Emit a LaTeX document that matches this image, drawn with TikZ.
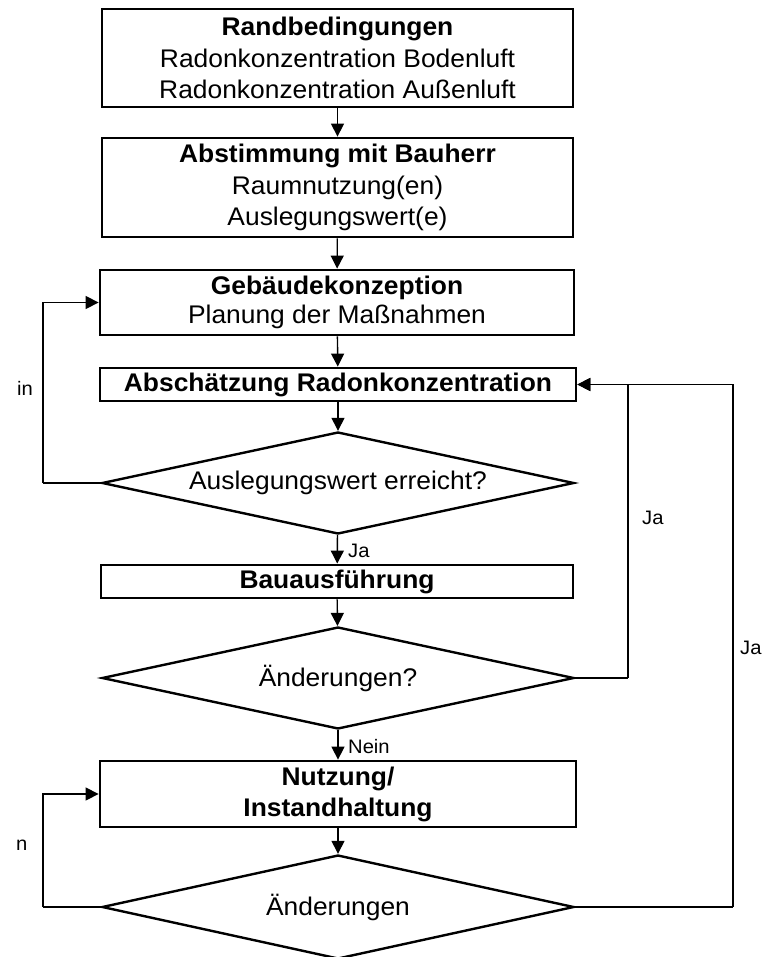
\documentclass[tikz,border=0pt]{standalone}
\usepackage{fontspec}
\setmainfont{Liberation Sans}[FakeStretch=1.035]
\usetikzlibrary{arrows.meta,shapes.geometric}
\tikzset{
  box/.style={draw, line width=2.8pt, rectangle, inner sep=0pt, align=center,
    font=\fontsize{25.5}{31.5}\selectfont},
  dia/.style={draw, line width=2.4pt, diamond, aspect=4.6, inner sep=0pt,
    minimum width=472pt, minimum height=102pt,
    font=\fontsize{25.5}{28}\selectfont},
  conn/.style={line width=1.4pt, -{Triangle[length=13pt,width=13pt]}},
  line/.style={line width=1.4pt},
  lab/.style={inner sep=0pt, font=\fontsize{19.5}{21}\selectfont},
}
\begin{document}
\begin{tikzpicture}[x=1pt,y=-1pt]
\useasboundingbox (0,0) rectangle (763,957);
\fill[white] (0,0) rectangle (763,957);
\clip (0,0) rectangle (763,957);

\node[box, minimum width=471pt, minimum height=98pt] (b1) at (337.5,58)
  {\textbf{Randbedingungen}\\Radonkonzentration Bodenluft\\Radonkonzentration Außenluft};
\node[box, minimum width=471pt, minimum height=99pt] (b2) at (337.5,187.5)
  {\textbf{Abstimmung mit Bauherr}\\Raumnutzung(en)\\Auslegungswert(e)};
\node[box, minimum width=474pt, minimum height=65pt, font=\fontsize{25.5}{29}\selectfont] (b3) at (337,302.5)
  {\textbf{Gebäudekonzeption}\\Planung der Maßnahmen};
\node[box, minimum width=476pt, minimum height=33pt] (b4) at (338,384.5)
  {\textbf{Abschätzung Radonkonzentration}};
\node[dia] (d1) at (338,483) {Auslegungswert erreicht?};
\node[box, minimum width=472pt, minimum height=33pt] (b5) at (337,581.5)
  {\textbf{Bauausführung}};
\node[dia] (d2) at (338,678) {Änderungen?};
\node[box, minimum width=476pt, minimum height=66pt, font=\fontsize{25.5}{31}\selectfont] (b6) at (338,794)
  {\textbf{Nutzung/}\\\textbf{Instandhaltung}};
\node[dia, minimum height=104pt] (d3) at (338,907) {Änderungen};

\draw[conn] (b1) -- (b2);
\draw[conn] (b2) -- (b3);
\draw[conn] (b3) -- (b4);
\draw[conn] (b4) -- (d1);
\draw[conn] (d1) -- (b5);
\draw[conn] (b5) -- (d2);
\draw[conn] (d2) -- (b6);
\draw[conn] (b6) -- (d3);

\coordinate (l1) at (43,483);
\coordinate (l3) at (43,907);
\coordinate (r2) at (628,678);
\coordinate (r3) at (733,907);

\draw[line] (d1.west) -- (l1);
\draw[conn] (l1) |- (b3.west);
\draw[line] (d3.west) -- (l3);
\draw[conn] (l3) |- (b6.west);
\draw[line] (d2.east) -- (r2);
\draw[conn] (r2) |- (b4.east);
\draw[line] (d3.east) -- (r3);
\draw[conn] (r3) |- (b4.east);

\node[lab, anchor=west] (t1) at (348,551) {Ja};
\node[lab, anchor=west] (t2) at (348,747) {Nein};
\node[lab, anchor=west] (t3) at (642,518) {Ja};
\node[lab, anchor=west] (t4) at (740,648) {Ja};
\node[lab, anchor=east] (t5) at (33,388) {in};
\node[lab, anchor=east] (t6) at (27.5,845) {n};
\end{tikzpicture}
\end{document}
